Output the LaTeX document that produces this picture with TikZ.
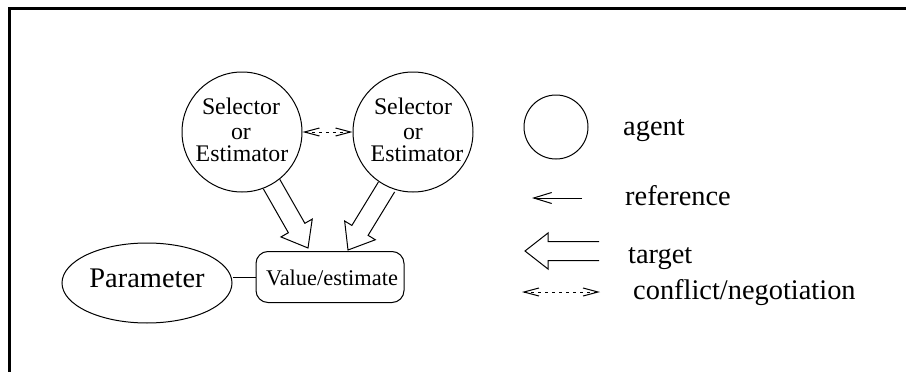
\documentclass[tikz,border=0pt]{standalone}
\usepackage{fontspec}
\setmainfont{Liberation Serif}
\usetikzlibrary{calc,shapes.geometric,arrows.meta}
\tikzset{
  thin line/.style={line width=1pt, line join=miter},
  agentc/.style={circle, draw, thin line, inner sep=0pt},
  selt/.style={inner sep=0pt, anchor=base, font=\fontsize{23.8}{28}\selectfont},
  bigt/.style={inner sep=0pt, anchor=base, font=\fontsize{28.4}{34}\selectfont},
  legt/.style={inner sep=0pt, anchor=base west, font=\fontsize{28.4}{34}\selectfont},
  refarrow/.style={thin line, -{Straight Barb[length=18pt,width=11pt,line width=1pt]}},
  conflarrow/.style={thin line, dash pattern=on 3pt off 4pt,
     {Straight Barb[length=15pt,width=8pt,line width=1pt]}-{Straight Barb[length=15pt,width=8pt,line width=1pt]}},
}
\newcommand\hollowarrow[2]{%
  \coordinate (hh) at ($(#2)!23pt!(#1)$);
  \draw[thin line] ($(#1)!9.5pt!90:(#2)$) -- ($(hh)!9.5pt!90:(#2)$) -- ($(hh)!18pt!90:(#2)$) -- (#2)
     -- ($(hh)!18pt!-90:(#2)$) -- ($(hh)!9.5pt!-90:(#2)$) -- ($(#1)!9.5pt!-90:(#2)$);
}
\begin{document}
\begin{tikzpicture}[x=1pt,y=-1pt]
\useasboundingbox (0,0) rectangle (906,372);
% frame
\draw[line width=3pt, line cap=rect] (906,8) -- (9,8) -- (9,372);
% agents
\node[agentc, minimum size=120pt] (a1) at (242,132) {};
\node[agentc, minimum size=120pt] (a2) at (413,132) {};
\node[selt] (a1s) at (241,114) {Selector};
\node[selt] (a1o) at (241,139) {or};
\node[selt] (a1e) at (242,161) {Estimator};
\node[selt] (a2s) at (413,114) {Selector};
\node[selt] (a2o) at (413,139) {or};
\node[selt] (a2e) at (417,161) {Estimator};
\draw[conflarrow] (a1.east) -- (a2.west);
% value and parameter
\node[draw, thin line, rounded corners=12pt, minimum width=148pt, minimum height=51pt, inner sep=0pt] (val) at (330,277) {};
\node[inner sep=0pt, anchor=base, font=\fontsize{22.4}{27}\selectfont] (valt) at (332,285) {Value/estimate};
\node[draw, thin line, ellipse, minimum width=170pt, minimum height=80pt, inner sep=0pt] (par) at (147,283) {};
\node[bigt] (part) at (147,287) {Parameter};
\draw[thin line] (val.west) -- (val.west -| par.east);
% target arrows
\coordinate (t1s) at (271.5,184);
\coordinate (t1e) at (308,248);
\coordinate (t2s) at (386.5,187);
\coordinate (t2e) at (348,250);
\hollowarrow{t1s}{t1e}
\hollowarrow{t2s}{t2e}
% legend
\node[agentc, minimum size=64pt] (lc) at (556,127) {};
\node[legt] (lag) at (623,135) {agent};
\coordinate (r1) at (582,198);
\coordinate (r2) at (532,198);
\draw[refarrow] (r1) -- (r2);
\node[legt] (lref) at (625,205) {reference};
\coordinate (g1) at (599,251);
\coordinate (g2) at (525,251);
\hollowarrow{g1}{g2}
\node[legt] (ltar) at (628,263) {target};
\coordinate (c1) at (522,292);
\coordinate (c2) at (600,292);
\draw[conflarrow] (c1) -- (c2);
\node[legt] (lcon) at (633,299) {conflict/negotiation};
\end{tikzpicture}
\end{document}
